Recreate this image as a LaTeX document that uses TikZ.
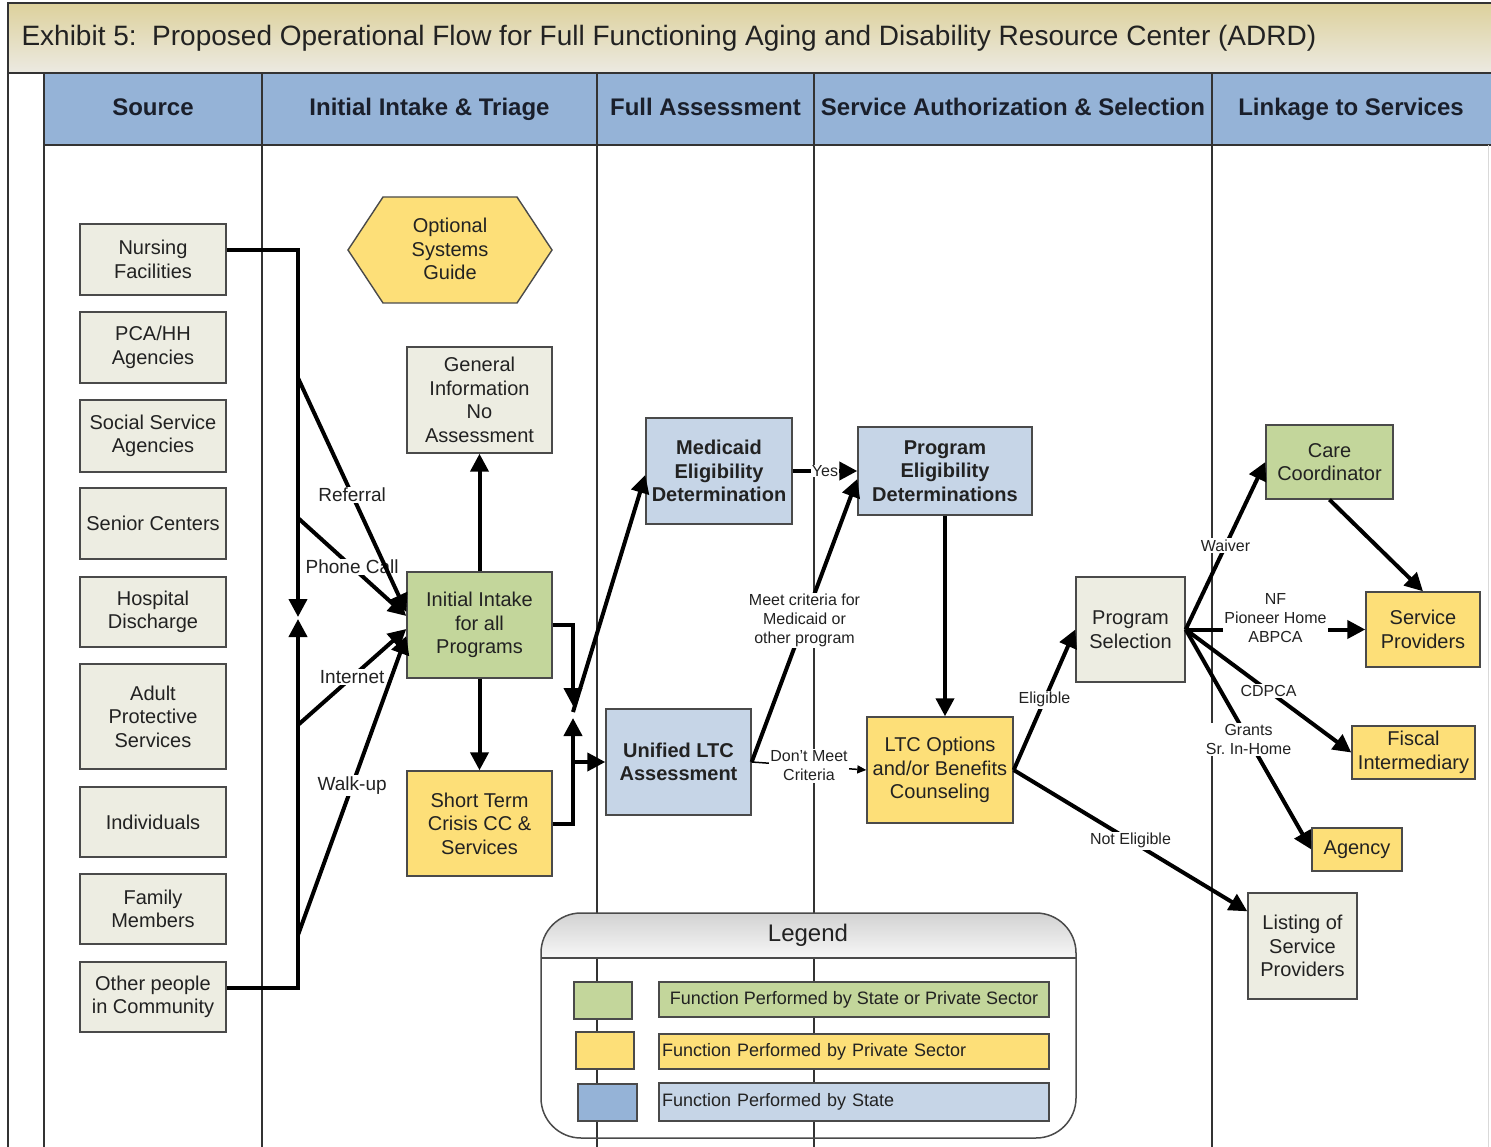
\documentclass[tikz,border=0pt]{standalone}
\usepackage{fontspec}
\setmainfont{Liberation Sans}
\usetikzlibrary{arrows.meta,calc}

\definecolor{hdrblue}{HTML}{95B3D7}
\definecolor{stateblue}{HTML}{C6D5E7}
\definecolor{mixgreen}{HTML}{C3D69B}
\definecolor{privyellow}{HTML}{FDDF78}
\definecolor{neutral}{HTML}{EDEDE2}
\definecolor{edge}{HTML}{4A4A4A}
\definecolor{ink}{HTML}{222222}
\definecolor{hdrink}{HTML}{1A1F2B}
\definecolor{titletop}{HTML}{DDD19C}
\definecolor{titlebot}{HTML}{ECEAE2}
\definecolor{legtop}{HTML}{D2D2D2}
\definecolor{legbot}{HTML}{F7F7F7}
\definecolor{laneline}{HTML}{333333}

% a box given by its corners: name, style, x1, y1, x2, y2, text
\newcommand{\flowbox}[7]{%
  \node[#2, minimum width={#5-#3}, minimum height={#6-#4}] (#1)
    at ({(#3+#5)/2},{(#4+#6)/2}) {#7};}

\begin{document}
\begin{tikzpicture}[x=1pt,y=-1pt,
  box/.style={draw=edge, line width=1.4pt, align=center, inner sep=1pt,
    text=ink, font=\fontsize{20}{23.5}\selectfont},
  neutralbox/.style={box, fill=neutral},
  greenbox/.style={box, fill=mixgreen},
  yellowbox/.style={box, fill=privyellow},
  bluebox/.style={box, fill=stateblue, font=\fontsize{20}{23.5}\selectfont\bfseries},
  lane/.style={draw=laneline, line width=1.7pt},
  arr/.style={line width=4pt, line join=miter, -{Triangle[length=18pt,width=18pt]}},
  thinarr/.style={line width=1.5pt, -{Triangle[length=9pt,width=8pt]}},
  lbl/.style={fill=white, inner sep=1.5pt, text=ink, font=\fontsize{19}{22}\selectfont},
  slbl/.style={fill=white, inner sep=1.5pt, text=ink, align=center,
    font=\fontsize{16}{19}\selectfont},
  colhead/.style={anchor=base, text=hdrink, font=\fontsize{24}{28}\selectfont\bfseries},
  legtext/.style={draw=edge, line width=1.4pt, inner sep=3pt, text=ink,
    font=\fontsize{18}{21}\selectfont, minimum height=35pt},
  swatch/.style={draw=edge, line width=1.4pt}
]
\useasboundingbox (0,0) rectangle (1491,1147);
\fill[white] (0,0) rectangle (1491,1147);

% ---- title bar ----
\shade[top color=titletop, bottom color=titlebot] (8,3) rectangle (1491,73);
\draw[line width=1.6pt, draw=laneline] (1491,3) -- (8,3) -- (8,1147);
\node[anchor=west, text=ink, font=\fontsize{28}{32}\selectfont] (title) at (18,38)
  {Exhibit 5:\ \ Proposed Operational Flow for Full Functioning Aging and Disability Resource Center (ADRD)};

% ---- column header row ----
\fill[hdrblue] (44,73) rectangle (1491,145);
\draw[line width=2pt, draw=laneline] (8,73) -- (1491,73);
\draw[line width=1.6pt, draw=laneline] (44,145) -- (1491,145);
\foreach \xx in {44,262,597,814,1212} {\draw[lane] (\xx,73) -- (\xx,1147);}
\draw[draw=black!15, line width=1pt] (1488,145) -- (1488,1147);
\node[colhead] (hsrc) at (153,116) {Source};
\node[colhead] (hint) at (429.5,116) {Initial Intake \& Triage};
\node[colhead] (hful) at (705.5,116) {Full Assessment};
\node[colhead] (hsvc) at (1013,116) {Service Authorization \& Selection};
\node[colhead] (hlnk) at (1351,116) {Linkage to Services};

% ---- legend ----
\begin{scope}
  \clip[rounded corners=40pt] (541,913) rectangle (1076,1138);
  \shade[top color=legtop, bottom color=legbot] (541,913) rectangle (1076,958);
\end{scope}
\draw[line width=1.5pt, draw=edge, rounded corners=40pt] (541,913) rectangle (1076,1138);
\draw[line width=1.5pt, draw=edge] (541,958) -- (1076,958);
\node[text=ink, font=\fontsize{24}{28}\selectfont] (legtitle) at (808,935) {Legend};
\fill[mixgreen, swatch] (574,982) rectangle (632,1019);
\fill[privyellow, swatch] (576,1032) rectangle (634,1069);
\fill[hdrblue, swatch] (578,1084) rectangle (637,1121);
\node[legtext, fill=mixgreen, minimum width=390pt] (lg1) at (854,999.5)
  {Function Performed by State or Private Sector};
\node[legtext, fill=privyellow, minimum width=390pt, text width=384pt, align=left] (lg2) at (854,1051.5)
  {Function Performed by Private Sector};
\node[legtext, fill=stateblue, minimum width=390pt, text width=384pt, align=left, minimum height=38pt] (lg3) at (854,1102)
  {Function Performed by State};

% ---- source boxes ----
\flowbox{nf}{neutralbox}{80}{224}{226}{295}{Nursing\\Facilities}
\flowbox{pca}{neutralbox}{80}{312}{226}{383}{PCA/HH\\Agencies}
\flowbox{ssa}{neutralbox}{80}{400}{226}{472}{Social Service\\Agencies}
\flowbox{sc}{neutralbox}{80}{488}{226}{559}{Senior Centers}
\flowbox{hd}{neutralbox}{80}{577}{226}{647}{Hospital\\Discharge}
\flowbox{aps}{neutralbox}{80}{664}{226}{769}{Adult\\Protective\\Services}
\flowbox{ind}{neutralbox}{80}{787}{226}{857}{Individuals}
\flowbox{fam}{neutralbox}{80}{874}{226}{944}{Family\\Members}
\flowbox{oth}{neutralbox}{80}{962}{226}{1032}{Other people\\in Community}

% ---- intake and triage ----
\draw[fill=privyellow, draw=edge, line width=1.4pt]
  (348,250) -- (383,197) -- (517,197) -- (552,250) -- (517,303) -- (383,303) -- cycle;
\node[align=center, text=ink, font=\fontsize{20}{23.5}\selectfont] (osg) at (450,249)
  {Optional\\Systems\\Guide};
\flowbox{gi}{neutralbox}{407}{347}{552}{453}{General\\Information\\No\\Assessment}
\flowbox{intake}{greenbox}{407}{572}{552}{678}{Initial Intake\\for all\\Programs}
\flowbox{st}{yellowbox}{407}{771}{552}{876}{Short Term\\Crisis CC \&\\Services}

% ---- assessment and authorization ----
\flowbox{med}{bluebox}{646}{418}{792}{524}{Medicaid\\Eligibility\\Determination}
\flowbox{uni}{bluebox}{606}{709}{751}{815}{Unified LTC\\Assessment}
\flowbox{ped}{bluebox}{858}{427}{1032}{515}{Program\\Eligibility\\Determinations}
\flowbox{lto}{yellowbox}{867}{717}{1013}{823}{LTC Options\\and/or Benefits\\Counseling}
\flowbox{ps}{neutralbox}{1076}{577}{1185}{682}{Program\\Selection}

% ---- linkage ----
\flowbox{cc}{greenbox}{1266}{425}{1393}{499}{Care\\Coordinator}
\flowbox{sp}{yellowbox}{1366}{592}{1480}{667}{Service\\Providers}
\flowbox{fi}{yellowbox}{1352}{726}{1475}{779}{Fiscal\\Intermediary}
\flowbox{ag}{yellowbox}{1312}{828}{1402}{871}{Agency}
\flowbox{lsp}{neutralbox}{1248}{893}{1357}{999}{Listing of\\Service\\Providers}

% ---- source bus ----
\coordinate (busTop) at (298,617);
\coordinate (busBot) at (298,619);
\coordinate (bRef) at (298,378);
\coordinate (bPh) at (298,518);
\coordinate (bIn) at (298,725);
\coordinate (bWk) at (298,935);
\draw[arr] ($(nf.east)+(0,-9)$) -| (busTop);
\draw[arr] ($(oth.east)+(0,-9)$) -| (busBot);
\draw[arr] (bPh) -- node[lbl]{Phone Call} ($(intake.west)+(0,-9)$);
\draw[arr] (bRef) -- node[lbl]{Referral} ($(intake.west)+(0,-13)$);
\draw[arr] (bIn) -- node[lbl]{Internet} ($(intake.west)+(0,4)$);
\draw[arr] (bWk) -- node[lbl]{Walk-up} ($(intake.west)+(0,11)$);

% ---- triage outcomes ----
\draw[arr] (intake.north) -- (gi.south);
\draw[arr] (intake.south) -- (st.north);
\coordinate (jTop) at (573,706);
\coordinate (jBot) at (573,718);
\coordinate (jMid) at (573,762);
\coordinate (jMed) at (573,712);
\draw[arr] (intake.east) -| (jTop);
\draw[arr] (st.east) -| (jBot);
\draw[arr] (jMid) -- (uni.west);
\draw[arr] (jMed) -- ($(med.west)+(0,4)$);

% ---- eligibility ----
\draw[arr] (med.east) -- node[slbl, inner sep=0.5pt]{Yes} (ped.west);
\draw[arr] (uni.east) -- node[slbl]{Meet criteria for\\Medicaid or\\other program} ($(ped.west)+(0,8)$);
\draw[thinarr] (uni.east) -- node[slbl]{Don't Meet\\Criteria} (lto.west);
\draw[arr] (ped.south) -- (ped.south |- lto.north);
\draw[arr] (lto.east) -- node[slbl]{Eligible} (ps.west);
\draw[arr] (lto.east) -- node[slbl]{Not Eligible} ($(lsp.north west)+(0,19)$);

% ---- program routes ----
\draw[arr] (ps.east) -- node[slbl]{Waiver} (cc.west);
\draw[arr] (ps.east) -- node[slbl, yshift=11pt]{NF\\Pioneer Home\\ABPCA} (sp.west);
\draw[arr] (ps.east) -- node[slbl]{CDPCA} (fi.west);
\draw[arr] (ps.east) -- node[slbl]{Grants\\Sr.\ In-Home} (ag.west);
\draw[arr] (cc.south) -- (sp.north);
\end{tikzpicture}
\end{document}
